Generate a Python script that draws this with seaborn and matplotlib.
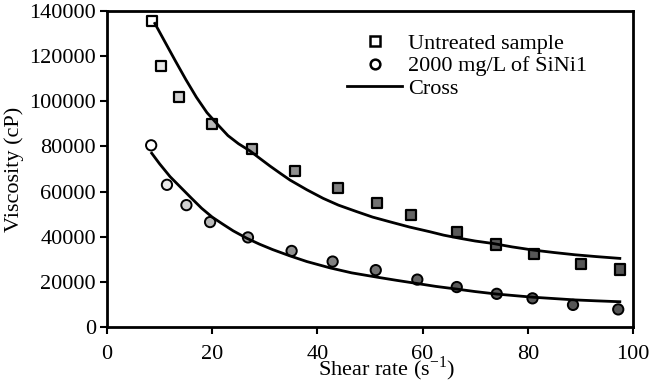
import matplotlib
matplotlib.use("Agg")
import matplotlib.pyplot as plt
from matplotlib.lines import Line2D
import seaborn as sns
import pandas as pd

shear_untreated = [8.6, 10.3, 13.7, 20.0, 27.6, 35.7, 43.9, 51.3, 57.8, 66.5, 74.0, 81.2, 90.1, 97.5]
visc_untreated = [135500, 115500, 102000, 90000, 79000, 69000, 61500, 55000, 49500, 42000, 36500, 32500, 28000, 25500]

shear_sini = [8.4, 11.4, 15.1, 19.6, 26.8, 35.1, 42.9, 51.1, 59.0, 66.5, 74.1, 80.9, 88.6, 97.2]
visc_sini = [80500, 63000, 54000, 46500, 39700, 33700, 29000, 25200, 21000, 17700, 14700, 12700, 9800, 7800]

# Cross model curves
cross_x_untreated = [9.1, 11, 13, 15, 17, 19, 21, 23, 25, 27.2, 29, 31, 33, 34.8, 38, 41.1, 44,
                     47.5, 50.5, 53.8, 57.5, 61.4, 64, 67.1, 70, 73.4, 77, 81, 85, 89, 93, 97.5]
cross_y_untreated = [134500, 126400, 117900, 109600, 101800, 95000, 89800, 84800, 81200, 78000,
                     74800, 71300, 68000, 65100, 60800, 57000, 54000, 51100, 48700, 46600, 44300,
                     42200, 40700, 39300, 38100, 37000, 35500, 34100, 33000, 32000, 31200, 30400]

cross_x_sini = [8.5, 10, 12, 14, 16, 18, 20, 22, 24, 26.6, 29, 31.5, 34.8, 38, 42.4, 46.5, 51.3,
                55, 58.9, 62.5, 66.5, 70, 74.1, 78, 81, 85, 89, 93, 97.5]
cross_y_sini = [77000, 72300, 66600, 61900, 57200, 52600, 48700, 45600, 42600, 39300, 36700,
                34300, 31500, 29000, 26200, 24000, 22100, 20700, 19300, 18000, 16800, 15700,
                14600, 13800, 13200, 12600, 12000, 11600, 11200]

err = 1200

plt.rcParams["font.family"] = ["Liberation Serif", "DejaVu Serif"]
plt.rcParams["mathtext.fontset"] = "custom"
plt.rcParams["mathtext.rm"] = "Liberation Serif"
plt.rcParams["font.size"] = 16

fig = plt.figure(figsize=(6.5, 3.81), dpi=100)
ax = fig.add_axes([0.1646, 0.1417, 0.8092, 0.8294])

df_u = pd.DataFrame({"x": shear_untreated, "y": visc_untreated, "i": range(len(shear_untreated))})
df_s = pd.DataFrame({"x": shear_sini, "y": visc_sini, "i": range(len(shear_sini))})

ax.errorbar(shear_untreated, visc_untreated, yerr=err, fmt="none", ecolor="black",
            elinewidth=1, capsize=2.5, zorder=2)
ax.errorbar(shear_sini, visc_sini, yerr=err, fmt="none", ecolor="black",
            elinewidth=1, capsize=2.5, zorder=2)

pal_u = sns.blend_palette(["#ffffff", "#9a9a9a", "#5a5a5a", "#555555"], len(df_u))
pal_s = sns.blend_palette(["#ffffff", "#9a9a9a", "#5a5a5a", "#555555"], len(df_s))

sns.scatterplot(data=df_u, x="x", y="y", hue="i", palette=pal_u, marker="s", s=55,
                edgecolor="black", linewidth=1.6, legend=False, ax=ax, zorder=3)
sns.scatterplot(data=df_s, x="x", y="y", hue="i", palette=pal_s, marker="o", s=55,
                edgecolor="black", linewidth=1.4, legend=False, ax=ax, zorder=3)

sns.lineplot(x=cross_x_untreated, y=cross_y_untreated, color="black", linewidth=2, ax=ax, zorder=4)
sns.lineplot(x=cross_x_sini, y=cross_y_sini, color="black", linewidth=2, ax=ax, zorder=4)

ax.set_xlim(0, 100)
ax.set_ylim(0, 140000)
ax.set_xticks(range(0, 101, 20))
ax.set_yticks(range(0, 140001, 20000))
ax.tick_params(direction="out", length=5, width=1.5, color="black", pad=3)
ax.tick_params(axis="x", pad=8)
for spine in ax.spines.values():
    spine.set_linewidth(2)
    spine.set_color("black")

ax.set_ylabel("Viscosity (cP)", labelpad=4)
ax.set_xlabel(r"Shear rate (s$^{\mathregular{-1}}$)")
ax.xaxis.set_label_coords(0.532, -0.085)

handles = [
    Line2D([], [], linestyle="none", marker="s", markersize=7, markerfacecolor="white",
           markeredgecolor="black", markeredgewidth=1.8),
    Line2D([], [], linestyle="none", marker="o", markersize=7, markerfacecolor="white",
           markeredgecolor="black", markeredgewidth=1.8),
    Line2D([], [], color="black", linewidth=2),
]
ax.legend(handles, ["Untreated sample", "2000 mg/L of SiNi1", "Cross"], frameon=False,
          loc="upper left", bbox_to_anchor=(0.456, 0.929), handlelength=2.5,
          handletextpad=0.25, labelspacing=0.08, borderaxespad=0, borderpad=0)

fig.savefig("out.png", dpi=100)
